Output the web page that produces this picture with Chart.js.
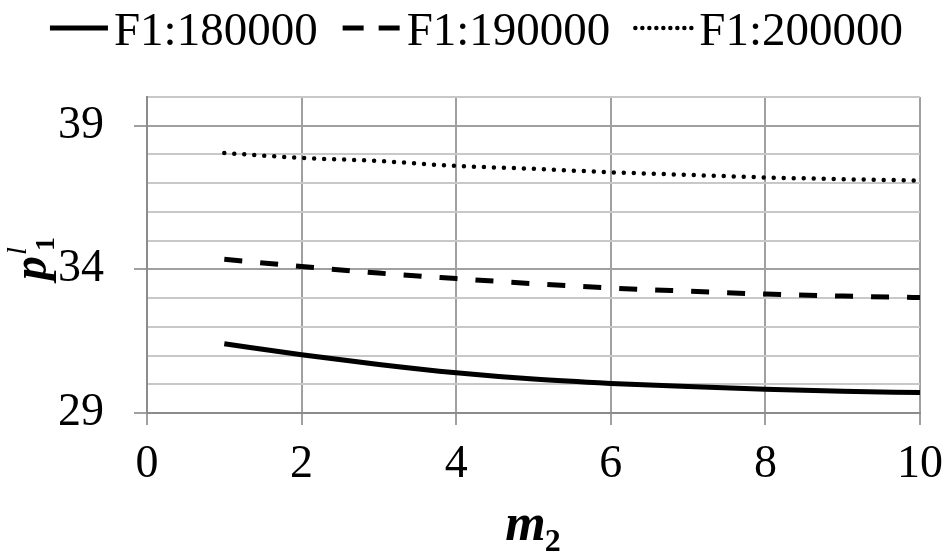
<!DOCTYPE html>
<html>
<head>
<meta charset="utf-8">
<script src="https://cdn.jsdelivr.net/npm/chart.js@4"></script>
<style>
  html, body { margin: 0; padding: 0; background: #fff; }
  #wrap { width: 945px; height: 554px; position: relative; }
</style>
</head>
<body>
<div id="wrap"><canvas id="chart"></canvas></div>
<script>
// ===== DATA =====
const m2Values = [1, 2, 3, 4, 5, 6, 7, 8, 9, 10];
const f180000 = [31.41, 31.03, 30.69, 30.40, 30.18, 30.03, 29.92, 29.83, 29.76, 29.71];
const f190000 = [34.35, 34.10, 33.87, 33.68, 33.50, 33.35, 33.24, 33.14, 33.07, 33.02];
const f200000 = [38.05, 37.88, 37.77, 37.60, 37.50, 37.38, 37.29, 37.20, 37.14, 37.09];
const seriesLabels = ['F1:180000', 'F1:190000', 'F1:200000'];
const yGridTicks = [29, 30, 31, 32, 33, 34, 35, 36, 37, 38, 39, 40];
const yLabelTicks = [29, 34, 39];

const FONT = '"Liberation Serif", "Times New Roman", serif';
const gridMajor = '#a0a0a0';
const gridMinor = '#c8c8c8';

const toPoints = ys => m2Values.map((x, i) => ({ x, y: ys[i] }));

// ===== LEGEND (line samples sit tight against the text) =====
const lineLegend = {
  id: 'lineLegend',
  afterDraw(chart) {
    const ctx = chart.ctx;
    ctx.save();
    ctx.font = `47px ${FONT}`;
    const sample = 58, gapText = 6, gapItem = 25;
    const items = chart.data.datasets.map(ds => ({
      ds, w: sample + gapText + ctx.measureText(ds.label).width
    }));
    const total = items.reduce((s, it) => s + it.w, 0) + gapItem * (items.length - 1);
    let x = (chart.width - total) / 2 + 4;
    items.forEach(it => {
      ctx.strokeStyle = '#000';
      ctx.lineWidth = it.ds.borderWidth;
      ctx.lineCap = it.ds.borderCapStyle || 'butt';
      ctx.setLineDash(it.ds.legendDash || it.ds.borderDash || []);
      ctx.beginPath();
      ctx.moveTo(x, 28);
      ctx.lineTo(x + sample, 28);
      ctx.stroke();
      ctx.setLineDash([]);
      ctx.fillStyle = '#000';
      ctx.textBaseline = 'alphabetic';
      ctx.fillText(it.ds.label, x + sample + gapText, 45);
      x += it.w + gapItem;
    });
    ctx.restore();
  }
};

// ===== AXIS TITLES (m2 and p^l_1 with sub/superscripts) =====
const axisTitles = {
  id: 'axisTitles',
  afterDraw(chart) {
    const { ctx, chartArea: a } = chart;
    ctx.save();
    ctx.fillStyle = '#000';
    ctx.textBaseline = 'alphabetic';

    // x title
    ctx.font = `italic bold 52px ${FONT}`;
    const mW = ctx.measureText('m').width;
    ctx.font = `bold 32px ${FONT}`;
    const twoW = ctx.measureText('2').width;
    const x0 = (a.left + a.right) / 2 - (mW + twoW) / 2;
    ctx.font = `italic bold 52px ${FONT}`;
    ctx.fillText('m', x0, 540);
    ctx.font = `bold 32px ${FONT}`;
    ctx.fillText('2', x0 + mW - 1, 551);

    // y title, rotated
    ctx.translate(46, (a.top + a.bottom) / 2 + 4);
    ctx.rotate(-Math.PI / 2);
    ctx.font = `italic bold 48px ${FONT}`;
    const pW = ctx.measureText('p').width;
    const start = -(pW + 18) / 2;
    ctx.fillText('p', start, 0);
    ctx.font = `italic 28px ${FONT}`;
    ctx.fillText('l', start + pW + 1, -20);
    ctx.font = `bold 28px ${FONT}`;
    ctx.fillText('1', start + pW + 5, 8);
    ctx.restore();
  }
};

// ===== CHART =====
const ctx = document.getElementById('chart').getContext('2d');

new Chart(ctx, {
  type: 'line',
  data: {
    datasets: [
      {
        label: seriesLabels[0],
        data: toPoints(f180000),
        borderColor: '#000',
        borderWidth: 5,
        pointRadius: 0,
        cubicInterpolationMode: 'monotone',
      },
      {
        label: seriesLabels[1],
        data: toPoints(f190000),
        borderColor: '#000',
        borderWidth: 5,
        borderDash: [18, 18],
        legendDash: [21, 15],
        pointRadius: 0,
        cubicInterpolationMode: 'monotone',
      },
      {
        label: seriesLabels[2],
        data: toPoints(f200000),
        borderColor: '#000',
        borderWidth: 4.5,
        borderDash: [0, 10],
        legendDash: [0, 7],
        borderCapStyle: 'round',
        pointRadius: 0,
        cubicInterpolationMode: 'monotone',
      },
    ]
  },
  options: {
    responsive: true,
    maintainAspectRatio: false,
    animation: false,
    layout: { padding: { top: 97, right: 25, left: 0, bottom: 0 } },
    plugins: {
      legend: { display: false },
      tooltip: { enabled: false },
    },
    scales: {
      x: {
        type: 'linear',
        min: 0,
        max: 10,
        afterFit: s => { s.height = 141; s.paddingRight = 20; s.paddingLeft = 0; },
        ticks: {
          stepSize: 2,
          color: '#000',
          padding: 12,
          font: { family: FONT, size: 46 },
          maxRotation: 0,
        },
        grid: { color: gridMajor, lineWidth: 2, tickLength: 12, tickColor: gridMajor },
        border: { color: '#8c8c8c', width: 2 },
      },
      y: {
        min: 29,
        max: 40,
        afterFit: s => { s.width = 147; },
        afterBuildTicks: s => { s.ticks = yGridTicks.map(v => ({ value: v })); },
        ticks: {
          autoSkip: false,
          color: '#000',
          padding: 30,
          font: { family: FONT, size: 46 },
          callback: v => (yLabelTicks.includes(v) ? v : ''),
        },
        grid: {
          color: c => (yLabelTicks.includes(c.tick && c.tick.value) ? gridMajor : gridMinor),
          tickColor: c => (yLabelTicks.includes(c.tick && c.tick.value) ? gridMajor : 'rgba(0,0,0,0)'),
          lineWidth: 2,
          tickLength: 13,
        },
        border: { color: '#8c8c8c', width: 2 },
      }
    }
  },
  plugins: [lineLegend, axisTitles]
});
</script>
</body>
</html>
